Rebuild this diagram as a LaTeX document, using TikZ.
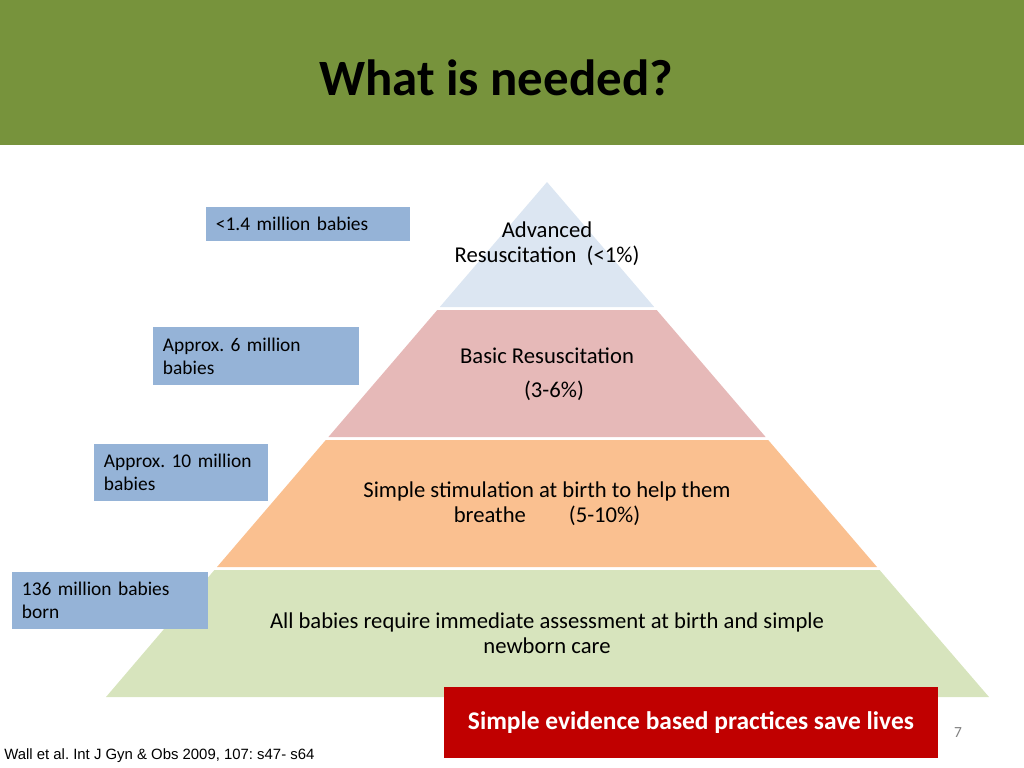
\documentclass[tikz,border=0pt]{standalone}
\usepackage{fontspec}
\setmainfont{Carlito}
\newfontfamily\citefont{Liberation Sans}
\usetikzlibrary{positioning}
\frenchspacing

\definecolor{headgreen}{HTML}{77933C}
\definecolor{tierblue}{HTML}{DCE6F2}
\definecolor{tierpink}{HTML}{E6B9B8}
\definecolor{tierorange}{HTML}{FAC090}
\definecolor{tiergreen}{HTML}{D7E4BD}
\definecolor{boxblue}{HTML}{95B3D7}
\definecolor{savered}{HTML}{C00000}

\tikzset{
  tierlabel/.style={align=center, inner sep=0pt, font=\fontsize{16.1}{17.7}\selectfont},
  countbox/.style={fill=boxblue, align=left, inner xsep=0.25cm, inner ysep=0pt,
    font=\fontsize{13.8}{16.3}\selectfont},
}

\begin{document}
\begin{tikzpicture}[x=0.025cm, y=-0.025cm]
  \useasboundingbox (0,0) rectangle (1024,768);
  % header band
  \fill[headgreen] (0,0) rectangle (1024,145);
  \node[font=\fontsize{36.2}{42}\selectfont\bfseries] (title) at (496,78) {What is needed?};

  % pyramid tiers
  \fill[tierblue]   (547,182) -- (654.2,307) -- (439.8,307) -- cycle;
  \fill[tierpink]   (437.3,310) -- (656.7,310) -- (765.6,437) -- (328.4,437) -- cycle;
  \fill[tierorange] (325.8,440) -- (768.2,440) -- (877.0,567) -- (217.0,567) -- cycle;
  \fill[tiergreen]  (214.4,570) -- (879.6,570) -- (989,697) -- (106,697) -- cycle;

  \node[tierlabel] (advanced) at (547,243.5) {Advanced\\Resuscitation~~(<1\%)};
  \node[tierlabel] (basic) at (547,356) {Basic Resuscitation};
  \node[tierlabel] (basicpct) at (554,391) {(3-6\%)};
  \node[tierlabel] (stimulation) at (547,503.5) {Simple stimulation at birth to help them\\breathe\hspace{1.9em}(5-10\%)};
  \node[tierlabel] (allcare) at (547,633.5) {All babies require immediate assessment at birth and simple\\newborn care};

  % counts beside the tiers
  \node[countbox, minimum width=5.1cm, minimum height=0.85cm, text width=4.6cm] (count1) at (308,224) {<1.4 million babies};
  \node[countbox, minimum width=5.15cm, minimum height=1.45cm, text width=4.65cm] (count2) at (256,356) {Approx. 6 million\\babies};
  \node[countbox, minimum width=4.35cm, minimum height=1.425cm, text width=3.85cm] (count3) at (181,472.5) {Approx. 10 million\\babies};
  \node[countbox, minimum width=4.9cm, minimum height=1.425cm, text width=4.4cm] (count4) at (110,600.5) {136 million babies\\born};

  % message and footer
  \node[fill=savered, text=white, minimum width=12.35cm, minimum height=1.775cm,
    font=\fontsize{18.1}{21}\selectfont\bfseries] (message) at (691,722.5) {Simple evidence based practices save lives};
  \node[text=gray, font=\fontsize{11}{13}\selectfont] (pagenum) at (958,733) {7};
  \node[anchor=west, inner sep=0pt, font=\citefont\fontsize{10.6}{13}\selectfont] (cite) at (4,756) {Wall et al. Int J Gyn \& Obs 2009, 107: s47- s64};
\end{tikzpicture}
\end{document}
